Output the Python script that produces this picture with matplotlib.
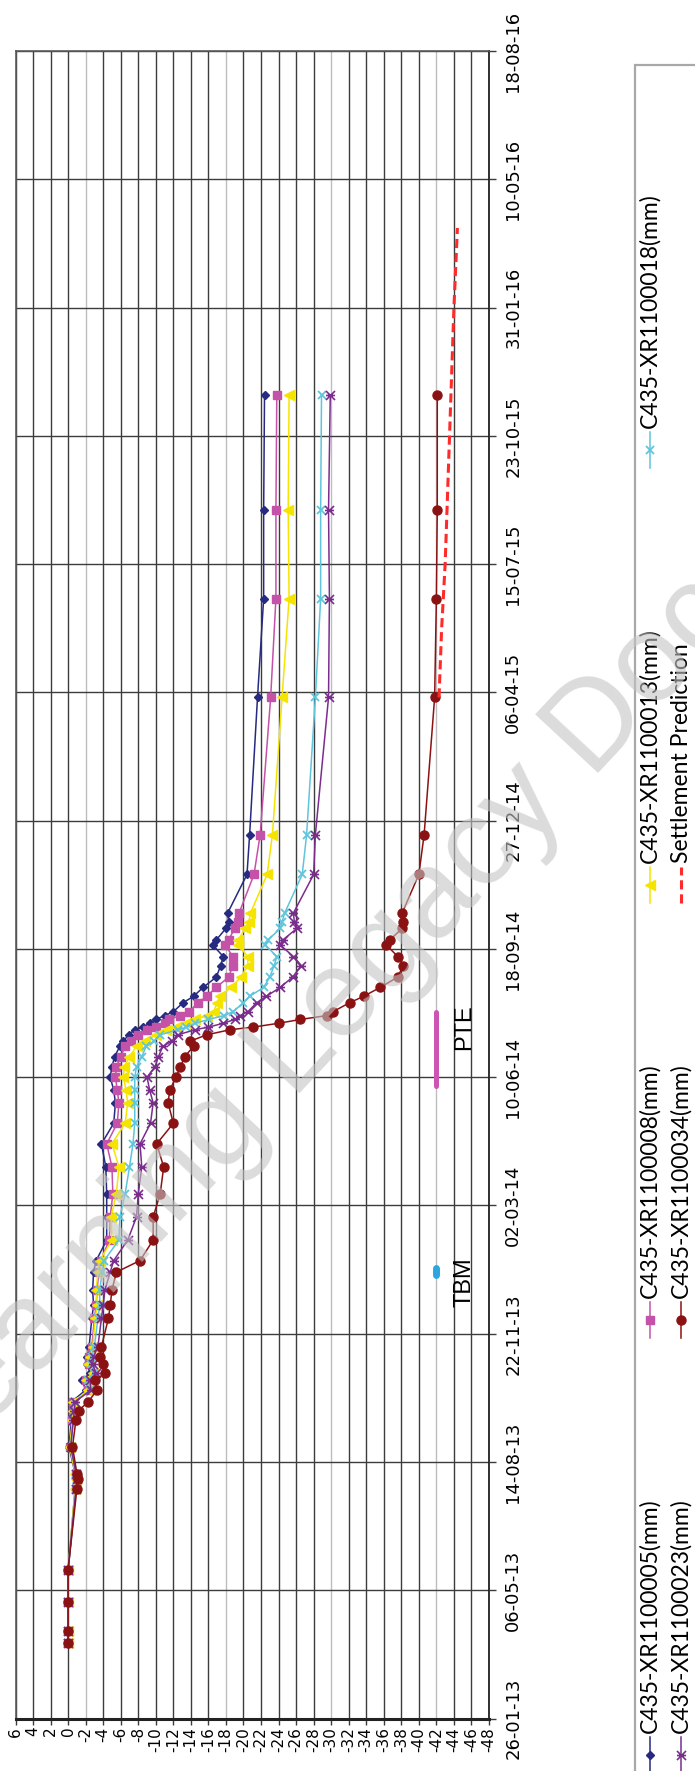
import matplotlib
matplotlib.use('Agg')
import matplotlib.pyplot as plt
import matplotlib.dates as mdates
from matplotlib.lines import Line2D
from matplotlib.patches import Rectangle
from matplotlib.path import Path
from datetime import datetime

# dane pomiarowe (wspólne daty dla wszystkich punktów)
dates = ['2013-03-26', '2013-04-04', '2013-04-27', '2013-05-22', '2013-07-24', '2013-08-01',
         '2013-08-05', '2013-08-26', '2013-09-16', '2013-09-23', '2013-09-30', '2013-10-09',
         '2013-10-17', '2013-10-22', '2013-10-29', '2013-11-04', '2013-11-12', '2013-12-04',
         '2013-12-14', '2013-12-26', '2014-01-09', '2014-01-18', '2014-02-03', '2014-02-21',
         '2014-03-11', '2014-04-01', '2014-04-19', '2014-05-05', '2014-05-21', '2014-05-31',
         '2014-06-10', '2014-06-18', '2014-06-26', '2014-07-04', '2014-07-08', '2014-07-13',
         '2014-07-17', '2014-07-19', '2014-07-22', '2014-07-25', '2014-07-28', '2014-07-31',
         '2014-08-07', '2014-08-12', '2014-08-19', '2014-08-27', '2014-09-05', '2014-09-12',
         '2014-09-21', '2014-09-25', '2014-10-04', '2014-10-09', '2014-10-16', '2014-11-15',
         '2014-12-16', '2015-04-02', '2015-06-18', '2015-08-26', '2015-11-24']

xr005 = [0.0, 0.0, 0.0, 0.0, -0.8, -0.9, -0.8, -0.1, -0.4, -0.5, -0.4, -2.0, -1.6, -2.5, -2.2,
         -2.2, -2.4, -2.7, -2.9, -2.8, -2.9, -3.2, -4.4, -4.4, -4.4, -4.3, -3.8, -5.2, -5.4, -5.2,
         -4.8, -5.0, -5.3, -5.9, -6.3, -6.9, -7.6, -8.5, -9.3, -10.0, -11.0, -12.0, -13.1, -14.3,
         -15.4, -16.9, -17.4, -17.7, -16.5, -16.9, -18.0, -18.3, -18.2, -20.4, -20.7, -21.6,
         -22.3, -22.3, -22.4]
xr008 = [0.0, 0.0, 0.0, 0.0, -0.9, -1.0, -0.9, -0.2, -0.5, -0.6, -0.6, -2.3, -2.0, -2.9, -2.4,
         -2.4, -2.7, -3.0, -3.2, -3.3, -3.5, -3.7, -4.7, -4.8, -5.1, -5.0, -4.4, -5.6, -5.8, -5.6,
         -5.4, -5.5, -6.0, -6.5, -7.2, -8.0, -9.0, -10.0, -11.0, -11.5, -12.8, -13.8, -14.8, -15.8,
         -16.9, -18.3, -18.8, -18.8, -17.9, -18.3, -19.0, -19.4, -19.5, -21.2, -21.9, -23.1,
         -23.7, -23.7, -23.8]
xr013 = [0.0, 0.0, 0.0, 0.0, -0.8, -0.9, -0.8, -0.2, -0.5, -0.6, -0.6, -2.3, -2.0, -2.8, -2.3,
         -2.5, -2.8, -3.1, -3.3, -3.2, -3.4, -3.6, -5.0, -4.9, -5.5, -5.8, -5.0, -6.5, -6.8, -6.6,
         -6.3, -6.4, -7.0, -7.8, -8.8, -10.0, -11.2, -12.3, -13.5, -14.5, -15.8, -16.6, -17.0,
         -17.3, -18.6, -19.7, -20.5, -20.5, -19.4, -19.4, -20.2, -20.6, -20.8, -22.7, -23.3,
         -24.4, -25.2, -25.1, -25.2]
xr018 = [0.0, 0.0, 0.0, 0.0, -0.9, -1.0, -0.9, -0.3, -0.6, -0.7, -0.8, -2.5, -2.3, -3.0, -2.6,
         -2.7, -3.0, -3.4, -3.6, -3.6, -3.9, -4.1, -5.8, -5.9, -6.5, -7.0, -7.4, -7.6, -7.6, -7.6,
         -7.6, -7.8, -8.4, -8.9, -9.8, -10.5, -12.5, -13.5, -14.5, -16.0, -17.8, -18.8, -20.0,
         -20.7, -22.3, -23.0, -23.5, -23.8, -22.5, -22.8, -24.2, -24.4, -24.7, -26.7, -27.2,
         -28.2, -28.8, -28.8, -28.9]
xr023 = [0.0, 0.0, 0.0, 0.0, -0.9, -1.0, -0.9, -0.3, -0.6, -0.7, -0.8, -2.6, -2.5, -3.2, -2.8,
         -2.9, -3.4, -3.8, -4.0, -4.2, -4.8, -5.2, -6.8, -7.8, -8.0, -8.4, -8.2, -9.4, -9.7, -9.3,
         -9.0, -9.9, -10.3, -10.8, -11.8, -12.5, -14.5, -16.0, -17.7, -19.0, -19.6, -20.5, -21.5,
         -22.6, -24.2, -25.6, -26.6, -25.7, -24.2, -24.5, -26.1, -25.8, -25.7, -28.0, -28.2,
         -29.7, -29.8, -29.7, -29.9]
xr034 = [0.0, 0.0, 0.0, 0.0, -1.0, -1.1, -1.0, -0.5, -0.9, -1.2, -2.3, -3.3, -3.1, -4.2, -4.0,
         -3.6, -3.8, -4.6, -4.8, -5.0, -5.5, -8.2, -9.7, -9.7, -10.5, -10.9, -10.1, -12.0, -11.4,
         -11.6, -12.3, -12.8, -13.3, -14.3, -13.9, -15.8, -18.5, -21.1, -24.0, -26.5, -29.5, -30.2,
         -32.1, -33.7, -35.6, -37.6, -38.2, -37.6, -36.3, -36.7, -38.1, -38.2, -38.1, -40.0, -40.6,
         -41.8, -42.0, -42.1, -42.1]

pred_dates = ['2015-04-02', '2015-05-26', '2015-07-15', '2015-10-23', '2016-01-31', '2016-04-02']
pred_values = [-42.3, -42.6, -43.0, -43.5, -44.0, -44.4]

tbm_dates = ['2014-01-07', '2014-01-12']
tbm_values = [-42, -42]
pte_dates = ['2014-06-03', '2014-07-31']
pte_values = [-42, -42]

date_ticks = ['26-01-13', '06-05-13', '14-08-13', '22-11-13', '02-03-14', '10-06-14', '18-09-14',
              '27-12-14', '06-04-15', '15-07-15', '23-10-15', '31-01-16', '10-05-16', '18-08-16']
value_ticks = list(range(6, -49, -2))
gray_lines = [-2, -18, -30, -42]

W, H = 695, 1771


def fx(px):  # piksele -> współrzędne figury
    return px / W


def fy(py):
    return 1 - py / H


def to_num(lst, fmt='%Y-%m-%d'):
    return [mdates.date2num(datetime.strptime(s, fmt)) for s in lst]


# znacznik gwiazdki (x + kreska pozioma)
star = Path([(-1, -1), (1, 1), (-1, 1), (1, -1), (-1, 0), (1, 0)],
            [Path.MOVETO, Path.LINETO] * 3)

series = [
    ('C435-XR1100005(mm)', xr005, dict(color='#262a80', marker='D', markersize=4.5)),
    ('C435-XR1100008(mm)', xr008, dict(color='#c452a8', marker='s', markersize=6)),
    ('C435-XR1100013(mm)', xr013, dict(color='#f5e400', marker='<', markersize=7)),
    ('C435-XR1100018(mm)', xr018, dict(color='#5ec5dc', marker='x', markersize=5.5, markeredgewidth=1.3)),
    ('C435-XR1100023(mm)', xr023, dict(color='#7b2d8e', marker=star, markersize=6.5, markeredgewidth=1.2)),
    ('C435-XR1100034(mm)', xr034, dict(color='#8b1212', marker='o', markersize=6.5)),
]

fig = plt.figure(figsize=(W / 100, H / 100), dpi=100)
ax = fig.add_axes([fx(15.5), fy(1718.5), (489 - 15.5) / W, (1718.5 - 51) / H])

d = to_num(dates)
tick_nums = to_num(date_ticks, '%d-%m-%y')
ax.set_xlim(6, -48)
ax.set_ylim(tick_nums[0], tick_nums[-1])

# siatka
for v in value_ticks:
    ax.axvline(v, color='#bdbdbd' if v in gray_lines else '#3c3c3c', lw=1.0, zorder=0.5)
for t in tick_nums:
    ax.axhline(t, color='#3c3c3c', lw=1.0, zorder=0.5)

for name, vals, st in series:
    ax.plot(vals, d, lw=1.1, zorder=2, **st)

ax.plot(pred_values, to_num(pred_dates), color='#ff2a2a', lw=2.2, dashes=(3, 1.6), zorder=3)
ax.plot(tbm_values, to_num(tbm_dates), color='#2aa7e0', lw=5, solid_capstyle='round', zorder=3)
ax.plot(pte_values, to_num(pte_dates), color='#cc55b4', lw=3.6, solid_capstyle='round', zorder=3)

ax.text(-45.2, to_num(['2014-07-19'])[0], 'PTE', rotation=90, ha='center', va='center',
        fontsize=17, family='Liberation Sans')
ax.text(-45.2, to_num(['2014-01-01'])[0], 'TBM', rotation=90, ha='center', va='center',
        fontsize=17, family='Liberation Sans')

ax.set_xticks(value_ticks)
ax.set_xticklabels([str(v) for v in value_ticks], rotation=90, fontsize=11, family='DejaVu Sans')
ax.yaxis.tick_right()
ax.set_yticks(tick_nums)
ax.set_yticklabels(date_ticks, rotation=90, va='center', fontsize=13, family='DejaVu Sans')
ax.tick_params(axis='x', length=4, width=1, pad=2, color='#3c3c3c')
ax.tick_params(axis='y', length=5, width=1, pad=6, color='#3c3c3c')

for side in ['left', 'top']:
    ax.spines[side].set_color('#5a5a5a')
    ax.spines[side].set_linewidth(1.2)
ax.spines['right'].set_color('#222222')
ax.spines['right'].set_linewidth(1.3)
ax.spines['bottom'].set_color('#222222')
ax.spines['bottom'].set_linewidth(2.2)

# legenda (obrócona, rysowana ręcznie)
fig.add_artist(Rectangle((fx(635), fy(1900)), 0.5, fy(65) - fy(1900), transform=fig.transFigure,
                         fill=False, edgecolor='#a8a8a8', lw=1.6))
col1, col2 = 650, 681
entries = [
    (series[0], col1, 1755), (series[1], col1, 1320), (series[2], col1, 885), (series[3], col1, 450),
    (series[4], col2, 1755), (series[5], col2, 1320),
]
for (name, vals, st), cx, my in entries:
    fig.add_artist(Line2D([fx(cx)] * 2, [fy(my + 18), fy(my - 18)], transform=fig.transFigure,
                          color=st['color'], lw=1.1))
    fig.add_artist(Line2D([fx(cx)], [fy(my)], transform=fig.transFigure, linestyle='none', **st))
    fig.text(fx(cx), fy(my - 22), name, rotation=90, rotation_mode='anchor', ha='left', va='center',
             fontsize=16.5, family='Lato')
fig.add_artist(Line2D([fx(col2)] * 2, [fy(885 + 18), fy(885 - 18)], transform=fig.transFigure,
                      color='#ff2a2a', lw=2.2, dashes=(3, 1.6)))
fig.text(fx(col2), fy(885 - 22), 'Settlement Prediction', rotation=90, rotation_mode='anchor',
         ha='left', va='center', fontsize=16.5, family='Lato')

# znak wodny
fig.text(fx(-62), fy(1481), 'Learning Legacy Document', rotation=47, rotation_mode='anchor',
         ha='left', va='baseline', fontsize=90, color='#c4c4c4', alpha=0.6,
         family='Liberation Sans', zorder=10)

fig.savefig('out.png', dpi=100)
